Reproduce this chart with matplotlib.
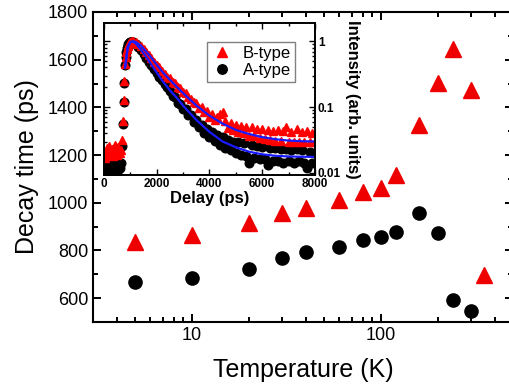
import matplotlib
matplotlib.use("Agg")
import matplotlib.pyplot as plt
from matplotlib.ticker import LogLocator, NullFormatter, MultipleLocator

plt.rcParams["font.family"] = ["Liberation Sans", "DejaVu Sans"]

# --- main panel: decay time vs temperature ---
temp_b = [5, 10, 20, 30, 40, 60, 80, 100, 120, 160, 200, 240, 300, 350]
tau_b = [835, 864, 915, 957, 978, 1011, 1045, 1062, 1116, 1326, 1502, 1645, 1473, 696]
temp_a = [5, 10, 20, 30, 40, 60, 80, 100, 120, 160, 200, 240, 300]
tau_a = [667, 684, 722, 768, 793, 814, 843, 856, 877, 957, 873, 592, 545]

# --- inset: time-resolved decay traces (ps, normalised intensity) ---
delay = [0, 50, 100, 150, 200, 250, 300, 350, 400, 450, 500, 550, 600, 650,
         700, 725, 750, 775, 800, 825, 850, 875, 900, 925, 950, 975, 1000, 1025, 1050, 1075,
         1100, 1200, 1300, 1400, 1500, 1600, 1700, 1800, 1900,
         2000, 2100, 2200, 2300, 2400, 2500, 2600, 2700, 2800, 2900,
         3000, 3100, 3200, 3300, 3400, 3500, 3600, 3700, 3800, 3900,
         4000, 4100, 4200, 4300, 4400, 4500, 4600, 4700, 4800, 4900,
         5000, 5100, 5200, 5300, 5400, 5500, 5600, 5700, 5800, 5900,
         6000, 6100, 6200, 6300, 6400, 6500, 6600, 6700, 6800, 6900,
         7000, 7100, 7200, 7300, 7400, 7500, 7600, 7700, 7800, 7900, 8000]
int_b = [0.021, 0.017, 0.024, 0.019, 0.026, 0.020, 0.023, 0.018, 0.027, 0.021, 0.019, 0.025, 0.020, 0.022,
         0.032, 0.062, 0.13, 0.25, 0.45, 0.58, 0.68, 0.77, 0.84, 0.89, 0.93, 0.96, 0.98, 0.99, 1.0, 1.0,
         1.00, 0.98, 0.92, 0.84, 0.76, 0.68, 0.61, 0.55, 0.49,
         0.44, 0.40, 0.36, 0.32, 0.29, 0.28, 0.24, 0.23, 0.20, 0.195,
         0.17, 0.165, 0.14, 0.135, 0.118, 0.115, 0.098, 0.100, 0.084, 0.086,
         0.072, 0.078, 0.064, 0.070, 0.078, 0.085, 0.062, 0.048, 0.058, 0.045,
         0.054, 0.042, 0.052, 0.040, 0.050, 0.037, 0.049, 0.036, 0.047, 0.034,
         0.046, 0.033, 0.045, 0.032, 0.044, 0.031, 0.045, 0.031, 0.043, 0.050,
         0.030, 0.042, 0.030, 0.046, 0.029, 0.042, 0.030, 0.044, 0.029, 0.041, 0.030]
int_a = [0.012, 0.010, 0.013, 0.011, 0.012, 0.0105, 0.013, 0.011, 0.012, 0.010, 0.013, 0.011, 0.012, 0.014,
         0.026, 0.055, 0.12, 0.23, 0.43, 0.57, 0.68, 0.78, 0.86, 0.91, 0.95, 0.97, 0.98, 0.98, 0.97, 0.96,
         0.97, 0.91, 0.82, 0.73, 0.64, 0.56, 0.49, 0.43, 0.375,
         0.33, 0.29, 0.255, 0.225, 0.20, 0.175, 0.150, 0.140, 0.115, 0.113,
         0.092, 0.093, 0.075, 0.076, 0.060, 0.064, 0.049, 0.054, 0.041, 0.047,
         0.035, 0.042, 0.031, 0.038, 0.027, 0.035, 0.024, 0.032, 0.022, 0.030,
         0.020, 0.029, 0.019, 0.028, 0.018, 0.014, 0.027, 0.017, 0.026, 0.016,
         0.025, 0.016, 0.013, 0.024, 0.015, 0.024, 0.015, 0.023, 0.014, 0.023,
         0.015, 0.022, 0.014, 0.023, 0.015, 0.022, 0.014, 0.012, 0.021, 0.014, 0.020]

fit_t = [800, 900, 1000, 1100, 1200, 1400, 1600, 1800, 2000, 2250, 2500, 2750,
         3000, 3500, 4000, 4500, 5000, 5500, 6000, 6500, 7000, 7500, 8000]
fit_b = [0.40, 0.80, 0.97, 1.0, 0.98, 0.86, 0.70, 0.56, 0.44, 0.33, 0.26, 0.205,
         0.163, 0.106, 0.074, 0.056, 0.045, 0.039, 0.035, 0.0325, 0.031, 0.0303, 0.030]
fit_a = [0.40, 0.82, 0.98, 0.99, 0.93, 0.75, 0.58, 0.44, 0.335, 0.24, 0.18, 0.14,
         0.105, 0.064, 0.042, 0.030, 0.0245, 0.021, 0.0192, 0.0182, 0.0178, 0.0176, 0.0175]

fig = plt.figure(figsize=(5.10, 3.92), dpi=100)
ax = fig.add_axes([0.1824, 0.1786, 0.8235, 0.7908])

ax.plot(temp_b, tau_b, "^", color="#ee0000", ms=11, mec="#ee0000", ls="none")
ax.plot(temp_a, tau_a, "o", color="black", ms=9.5, ls="none")

ax.set_xscale("log")
ax.set_xlim(3, 500)
ax.set_ylim(500, 1800)
ax.set_xticks([10, 100], ["10", "100"])
ax.xaxis.set_minor_locator(LogLocator(base=10, subs=[2, 3, 4, 5, 6, 7, 8, 9]))
ax.xaxis.set_minor_formatter(NullFormatter())
ax.set_yticks([600, 800, 1000, 1200, 1400, 1600, 1800])
ax.yaxis.set_minor_locator(MultipleLocator(100))
ax.tick_params(which="both", direction="in", top=True, right=True,
               labelsize=13, width=1.4)
ax.tick_params(which="major", length=6)
ax.tick_params(which="minor", length=3.5)
for s in ax.spines.values():
    s.set_linewidth(1.5)
ax.set_xlabel("Temperature (K)", fontsize=18, labelpad=10)
ax.set_ylabel("Decay time (ps)", fontsize=18, labelpad=6)

# --- inset ---
ins = fig.add_axes([0.2039, 0.5536, 0.4137, 0.3878])
ins.plot(delay, int_a, "o", color="black", ms=6.2, ls="none", label="A-type")
ins.plot(delay, int_b, "^", color="#ff0000", ms=6.2, ls="none", label="B-type")
ins.plot(fit_t, fit_b, color="#1a1aff", lw=1.6)
ins.plot(fit_t, fit_a, color="#1a1aff", lw=1.6)

ins.set_yscale("log")
ins.set_xlim(0, 8000)
ins.set_ylim(0.0093, 1.9)
ins.set_xticks([0, 2000, 4000, 6000, 8000])
ins.xaxis.set_minor_locator(MultipleLocator(1000))
ins.set_yticks([0.01, 0.1, 1], ["0.01", "0.1", "1"])
ins.yaxis.set_minor_formatter(NullFormatter())
ins.yaxis.tick_right()
ins.yaxis.set_label_position("right")
ins.tick_params(which="both", direction="in", top=True, left=True, right=True,
                labelsize=8.5, width=1.0, pad=2)
ins.tick_params(which="major", length=4)
ins.tick_params(which="minor", length=2.5)
for lab in ins.get_xticklabels() + ins.get_yticklabels():
    lab.set_fontweight("bold")
for s in ins.spines.values():
    s.set_linewidth(1.4)
ins.set_xlabel("Delay (ps)", fontsize=12, fontweight="bold", labelpad=1)
ins.set_ylabel("Intensity (arb. units)", fontsize=12, fontweight="bold",
               rotation=270, labelpad=14)

h, l = ins.get_legend_handles_labels()
leg = ins.legend([h[1], h[0]], [l[1], l[0]], loc="upper right",
                 bbox_to_anchor=(0.905, 0.875), borderaxespad=0, fontsize=12,
                 fancybox=False, edgecolor="gray", framealpha=1, markerscale=1.1,
                 handletextpad=0.6, borderpad=0.25, labelspacing=0.1,
                 handlelength=1.3)
leg.get_frame().set_linewidth(1.0)

fig.savefig("out.png", dpi=100)
